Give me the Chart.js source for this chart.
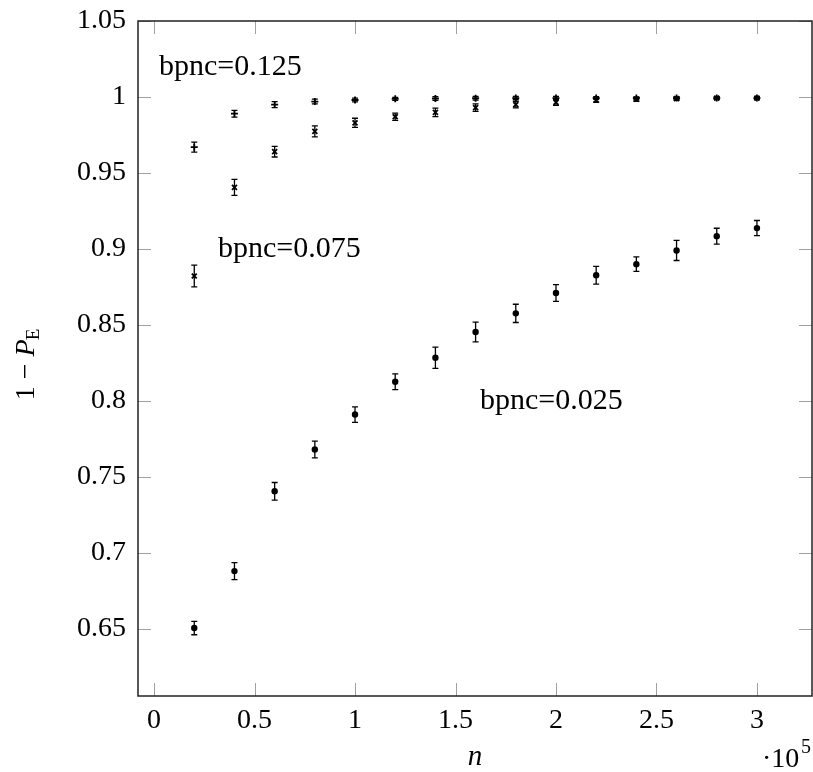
<!DOCTYPE html>
<html>
<head>
<meta charset="utf-8">
<script src="https://cdn.jsdelivr.net/npm/chart.js@4/dist/chart.umd.min.js"></script>
<style>
  body { margin: 0; background: #fff; }
  #wrap { width: 813px; height: 772px; }
</style>
</head>
<body>
<div id="wrap"><canvas id="myChart" width="813" height="772"></canvas></div>
<script>
const n = [20000, 40000, 60000, 80000, 100000, 120000, 140000, 160000,
  180000, 200000, 220000, 240000, 260000, 280000, 300000];

const p125 = [0.967, 0.989, 0.995, 0.997, 0.998, 0.9988, 0.999, 0.9992,
  0.9993, 0.9993, 0.9993, 0.9993, 0.9993, 0.9993, 0.9993];
const e125 = [0.0033, 0.0022, 0.002, 0.0016, 0.0012, 0.001, 0.0012, 0.0012,
  0.001, 0.001, 0.0009, 0.0008, 0.0008, 0.0007, 0.0007];

const p075 = [0.8822, 0.9405, 0.964, 0.9774, 0.983, 0.987, 0.9899, 0.993,
  0.995, 0.9965, 0.998, 0.9985, 0.9989, 0.9992, 0.9992];
const e075 = [0.0071, 0.0053, 0.0035, 0.0036, 0.003, 0.0024, 0.0028, 0.0025,
  0.0022, 0.002, 0.0015, 0.0013, 0.001, 0.0008, 0.0007];

const p025 = [0.6505, 0.688, 0.7405, 0.768, 0.791, 0.8126, 0.8284, 0.8453,
  0.8576, 0.871, 0.8827, 0.89, 0.899, 0.9084, 0.9137];
const e025 = [0.0044, 0.0056, 0.0058, 0.0055, 0.0051, 0.0052, 0.007, 0.0065,
  0.006, 0.0055, 0.0058, 0.0048, 0.0066, 0.0052, 0.005];

const xTicks = [0, 50000, 100000, 150000, 200000, 250000, 300000];
const xTickLabels = ["0", "0.5", "1", "1.5", "2", "2.5", "3"];
const yTicks = [0.65, 0.7, 0.75, 0.8, 0.85, 0.9, 0.95, 1, 1.05];
const yTickLabels = ["0.65", "0.7", "0.75", "0.8", "0.85", "0.9", "0.95", "1", "1.05"];

const FONT = "'Liberation Serif', 'Times New Roman', serif";

const toPts = (ys) => ys.map((y, i) => ({ x: n[i], y: y }));

// chart.js pads the area for overflowing tick labels, we want a fixed box
const noPad = (s) => {
  s.paddingTop = 0; s.paddingBottom = 0;
  s.paddingLeft = 0; s.paddingRight = 0;
};

const errorBars = {
  id: "errorBars",
  afterDatasetsDraw(chart) {
    const ctx = chart.ctx;
    const ys = chart.scales.y;
    const errs = [e125, e075, e025];
    ctx.save();
    ctx.strokeStyle = "#000";
    ctx.lineWidth = 1.3;
    chart.data.datasets.forEach((ds, di) => {
      const meta = chart.getDatasetMeta(di);
      meta.data.forEach((pt, i) => {
        const v = ds.data[i].y;
        const top = ys.getPixelForValue(v + errs[di][i]);
        const bot = ys.getPixelForValue(v - errs[di][i]);
        ctx.beginPath();
        ctx.moveTo(pt.x, top); ctx.lineTo(pt.x, bot);
        ctx.moveTo(pt.x - 3, top); ctx.lineTo(pt.x + 3, top);
        ctx.moveTo(pt.x - 3, bot); ctx.lineTo(pt.x + 3, bot);
        ctx.stroke();
      });
    });
    ctx.restore();
  }
};

const frame = {
  id: "frame",
  beforeDatasetsDraw(chart) {
    const { ctx, chartArea: a, scales } = chart;
    ctx.save();
    ctx.strokeStyle = "#a0a0a0";
    ctx.lineWidth = 1;
    const L = 13;
    scales.x.ticks.forEach((t) => {
      const px = Math.round(scales.x.getPixelForValue(t.value)) + 0.5;
      ctx.beginPath();
      ctx.moveTo(px, a.bottom); ctx.lineTo(px, a.bottom - L);
      ctx.moveTo(px, a.top); ctx.lineTo(px, a.top + L);
      ctx.stroke();
    });
    scales.y.ticks.forEach((t) => {
      const py = Math.round(scales.y.getPixelForValue(t.value)) + 0.5;
      ctx.beginPath();
      ctx.moveTo(a.left, py); ctx.lineTo(a.left + L, py);
      ctx.moveTo(a.right, py); ctx.lineTo(a.right - L, py);
      ctx.stroke();
    });
    ctx.strokeStyle = "#222";
    ctx.lineWidth = 1.5;
    ctx.strokeRect(a.left, a.top, a.right - a.left, a.bottom - a.top);
    ctx.restore();
  },
  afterDraw(chart) {
    const { ctx, chartArea: a } = chart;
    ctx.save();
    ctx.fillStyle = "#000";
    ctx.textBaseline = "alphabetic";

    // annotations
    ctx.font = "30px " + FONT;
    ctx.fillText("bpnc=0.125", 159, 75);
    ctx.fillText("bpnc=0.075", 218, 257);
    ctx.fillText("bpnc=0.025", 480, 409);

    // x title
    ctx.font = "italic 29px " + FONT;
    ctx.textAlign = "center";
    ctx.fillText("n", (a.left + a.right) / 2, 765);

    // x multiplier
    ctx.textAlign = "left";
    ctx.font = "28px " + FONT;
    ctx.fillText("\u00b710", 762, 767);
    ctx.font = "20px " + FONT;
    ctx.fillText("5", 801, 753);

    // y title
    ctx.translate(24, 364);
    ctx.rotate(-Math.PI / 2);
    const p1 = "1 \u2212 ";
    ctx.font = "28px " + FONT;
    const w1 = ctx.measureText(p1).width;
    ctx.font = "italic 28px " + FONT;
    const w2 = ctx.measureText("P").width;
    ctx.font = "19px " + FONT;
    const w3 = ctx.measureText("E").width;
    let x0 = -(w1 + w2 + w3) / 2;
    ctx.font = "28px " + FONT;
    ctx.fillText(p1, x0, 10);
    ctx.font = "italic 28px " + FONT;
    ctx.fillText("P", x0 + w1, 10);
    ctx.font = "19px " + FONT;
    ctx.fillText("E", x0 + w1 + w2 - 1, 15);
    ctx.restore();
  }
};

const ctx = document.getElementById("myChart");

new Chart(ctx, {
  type: "scatter",
  data: {
    datasets: [
      {
        label: "bpnc=0.125",
        data: toPts(p125),
        pointStyle: "cross",
        pointRadius: 3.5,
        borderColor: "#000",
        backgroundColor: "#000",
        pointBorderWidth: 1.8,
      },
      {
        label: "bpnc=0.075",
        data: toPts(p075),
        pointStyle: "crossRot",
        pointRadius: 3.5,
        borderColor: "#000",
        backgroundColor: "#000",
        pointBorderWidth: 1.8,
      },
      {
        label: "bpnc=0.025",
        data: toPts(p025),
        pointStyle: "circle",
        pointRadius: 3.2,
        borderColor: "#000",
        backgroundColor: "#000",
        pointBorderWidth: 0,
      },
    ],
  },
  options: {
    responsive: false,
    animation: false,
    layout: { autoPadding: false, padding: { top: 21, right: 1, left: 0, bottom: 0 } },
    plugins: { legend: { display: false }, tooltip: { enabled: false } },
    scales: {
      x: {
        type: "linear",
        min: -8000,
        max: 327400,
        grid: { display: false, drawTicks: false },
        border: { display: false },
        afterBuildTicks: (s) => { s.ticks = xTicks.map((v) => ({ value: v })); },
        afterFit: (s) => { s.height = 76; noPad(s); },
        ticks: {
          padding: 8,
          color: "#000",
          font: { family: FONT, size: 28 },
          maxRotation: 0,
          callback: (v, i) => xTickLabels[i],
        },
      },
      y: {
        type: "linear",
        min: 0.6058,
        max: 1.05,
        grid: { display: false, drawTicks: false },
        border: { display: false },
        afterBuildTicks: (s) => { s.ticks = yTicks.map((v) => ({ value: v })); },
        afterFit: (s) => { s.width = 138; noPad(s); },
        ticks: {
          padding: 12,
          color: "#000",
          font: { family: FONT, size: 28 },
          callback: (v, i) => yTickLabels[i],
        },
      },
    },
  },
  plugins: [frame, errorBars],
});
</script>
</body>
</html>
